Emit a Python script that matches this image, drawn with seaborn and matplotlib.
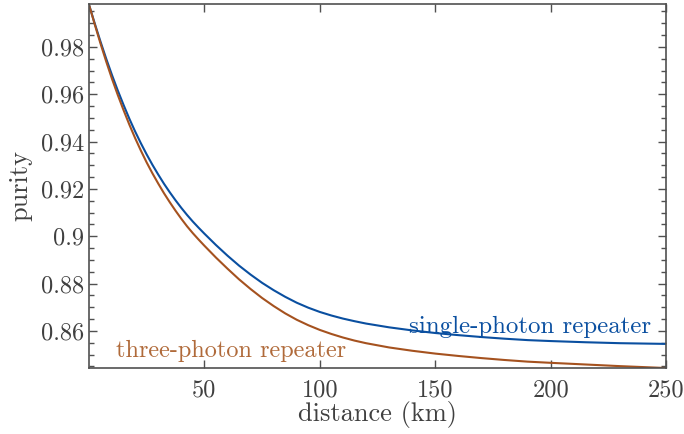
import numpy as np
import pandas as pd
import matplotlib
matplotlib.use("Agg")
import matplotlib.pyplot as plt
import seaborn as sns
from matplotlib.ticker import MultipleLocator

# ---- data ----
distance = [0, 2.5, 5, 7.5, 10, 12.5, 15, 17.5, 20, 22.5, 25, 27.5, 30, 32.5,
            35, 37.5, 40, 42.5, 45, 47.5, 50, 55, 60, 65, 70, 75, 80, 85, 90,
            95, 100, 105, 110, 115, 120, 130, 140, 150, 160, 170, 180, 190,
            200, 215, 230, 250]
purity_single = [0.998, 0.9900, 0.9823, 0.9750, 0.9681, 0.9616, 0.9555, 0.9497,
                 0.9443, 0.9393, 0.9346, 0.9302, 0.9261, 0.9222, 0.9186, 0.9152,
                 0.9120, 0.9090, 0.9062, 0.9036, 0.9011, 0.8963, 0.8918, 0.8876,
                 0.8838, 0.8803, 0.8772, 0.8744, 0.8719, 0.8698, 0.8680, 0.8665,
                 0.8652, 0.8641, 0.8631, 0.8615, 0.8602, 0.8591, 0.8582, 0.8574,
                 0.8567, 0.8561, 0.8557, 0.8552, 0.8548, 0.8545]
purity_three = [0.998, 0.9896, 0.9815, 0.9738, 0.9665, 0.9597, 0.9533, 0.9472,
                0.9415, 0.9362, 0.9312, 0.9266, 0.9223, 0.9182, 0.9144, 0.9108,
                0.9074, 0.9042, 0.9013, 0.8986, 0.8960, 0.8910, 0.8863, 0.8818,
                0.8777, 0.8739, 0.8705, 0.8674, 0.8647, 0.8624, 0.8604, 0.8587,
                0.8572, 0.8559, 0.8548, 0.8530, 0.8516, 0.8504, 0.8494, 0.8485,
                0.8477, 0.8470, 0.8465, 0.8458, 0.8451, 0.8443]
series_names = ["single-photon repeater", "three-photon repeater"]
x_ticks = [50, 100, 150, 200, 250]
y_ticks = [0.86, 0.88, 0.90, 0.92, 0.94, 0.96, 0.98]
y_tick_labels = ["0.86", "0.88", "0.9", "0.92", "0.94", "0.96", "0.98"]

df = pd.DataFrame({
    "distance": distance * 2,
    "purity": purity_single + purity_three,
    "series": [series_names[0]] * len(distance) + [series_names[1]] * len(distance),
})

sns.set_style("ticks")
plt.rcParams["font.family"] = ["cmr10"]
plt.rcParams["axes.formatter.use_mathtext"] = True
plt.rcParams["mathtext.fontset"] = "cm"

blue = "#0a4fa0"
brown = "#a5521f"
text_brown = "#b06a3a"
gray = "#404040"

fig = plt.figure(figsize=(6.84, 4.34), dpi=100)
ax = fig.add_axes([0.130, 0.152, 0.844, 0.839])

sns.lineplot(data=df, x="distance", y="purity", hue="series",
             palette={series_names[0]: blue, series_names[1]: brown},
             linewidth=1.5, ax=ax, legend=False)

ax.set_xlim(0, 250)
ax.set_ylim(0.8443, 0.9982)
ax.set_xticks(x_ticks)
ax.set_xticklabels([str(t) for t in x_ticks])
ax.set_yticks(y_ticks)
ax.set_yticklabels(y_tick_labels)
ax.yaxis.set_minor_locator(MultipleLocator(0.005))

ax.tick_params(axis="both", which="both", direction="in", top=True, right=True,
               colors="#505050", labelcolor=gray, labelsize=17.5)
ax.tick_params(which="major", length=6, width=1.0)
ax.tick_params(which="minor", length=3.5, width=1.0)
ax.tick_params(axis="x", pad=8)
for s in ax.spines.values():
    s.set_color("#505050")
    s.set_linewidth(1.2)

ax.set_xlabel("distance (km)", fontsize=19, color=gray, labelpad=0)
ax.set_ylabel("purity", fontsize=19, color=gray, labelpad=6)

ax.text(243.5, 0.8592, series_names[0], color=blue, fontsize=17.9,
        ha="right", va="baseline")
ax.text(11.9, 0.8489, series_names[1], color=text_brown, fontsize=17.5,
        ha="left", va="baseline")

fig.savefig("out.png", dpi=100)
